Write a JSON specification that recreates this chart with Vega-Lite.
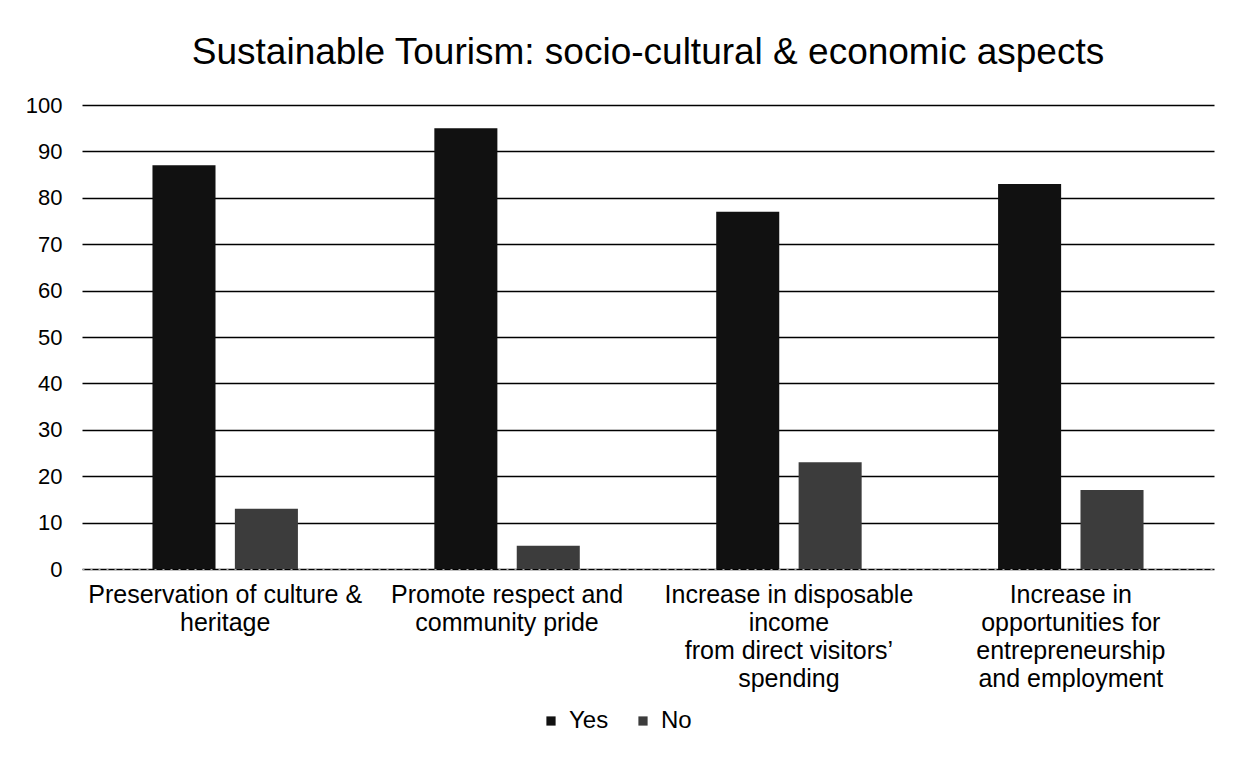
{
  "$schema": "https://vega.github.io/schema/vega-lite/v6.json",
  "width": 1132,
  "height": 464,
  "autosize": {"type": "none"},
  "padding": {"left": 82, "top": 105, "right": 33, "bottom": 210},
  "background": "white",
  "title": {
    "text": "Sustainable Tourism: socio-cultural & economic aspects",
    "font": "Liberation Sans",
    "fontSize": 37,
    "fontWeight": "normal",
    "color": "black",
    "anchor": "middle",
    "offset": 22
  },
  "data": {
    "values": [
      {"aspect": "Preservation of culture &|heritage", "answer": "Yes", "value": 87},
      {"aspect": "Preservation of culture &|heritage", "answer": "No", "value": 13},
      {"aspect": "Promote respect and|community pride", "answer": "Yes", "value": 95},
      {"aspect": "Promote respect and|community pride", "answer": "No", "value": 5},
      {"aspect": "Increase in disposable|income|from direct visitors’|spending", "answer": "Yes", "value": 77},
      {"aspect": "Increase in disposable|income|from direct visitors’|spending", "answer": "No", "value": 23},
      {"aspect": "Increase in|opportunities for|entrepreneurship|and employment", "answer": "Yes", "value": 83},
      {"aspect": "Increase in|opportunities for|entrepreneurship|and employment", "answer": "No", "value": 17}
    ]
  },
  "mark": {"type": "bar"},
  "encoding": {
    "x": {
      "field": "aspect",
      "type": "nominal",
      "sort": null,
      "scale": {"paddingInner": 0.484, "paddingOuter": 0.25},
      "axis": {
        "title": null,
        "labelAngle": 0,
        "labelExpr": "split(datum.label, '|')",
        "labelFont": "Liberation Sans",
        "labelFontSize": 25,
        "labelLineHeight": 28,
        "labelColor": "black",
        "labelPadding": 13,
        "labelLimit": 400,
        "labelBaseline": "top",
        "ticks": false,
        "domain": true,
        "domainColor": "#aaaaaa",
        "domainDash": [2, 6],
        "domainWidth": 1
      }
    },
    "xOffset": {
      "field": "answer",
      "type": "nominal",
      "sort": ["Yes", "No"],
      "scale": {"paddingInner": 0.235, "paddingOuter": 0}
    },
    "y": {
      "field": "value",
      "type": "quantitative",
      "scale": {"domain": [0, 100]},
      "axis": {
        "title": null,
        "values": [0, 10, 20, 30, 40, 50, 60, 70, 80, 90, 100],
        "labelFont": "Liberation Sans",
        "labelFontSize": 22,
        "labelColor": "black",
        "labelPadding": 20,
        "ticks": false,
        "domain": false,
        "grid": true,
        "gridColor": "black",
        "gridWidth": 1.3
      }
    },
    "color": {
      "field": "answer",
      "type": "nominal",
      "sort": ["Yes", "No"],
      "scale": {"domain": ["Yes", "No"], "range": ["#111111", "#3c3c3c"]},
      "legend": {
        "title": null,
        "orient": "none",
        "direction": "horizontal",
        "legendX": 457,
        "legendY": 604,
        "symbolType": "square",
        "symbolSize": 85,
        "labelFont": "Liberation Sans",
        "labelFontSize": 24,
        "labelColor": "black",
        "labelOffset": 6,
        "columnPadding": 22
      }
    }
  },
  "config": {
    "view": {"stroke": null},
    "axis": {"gridDash": []}
  }
}
